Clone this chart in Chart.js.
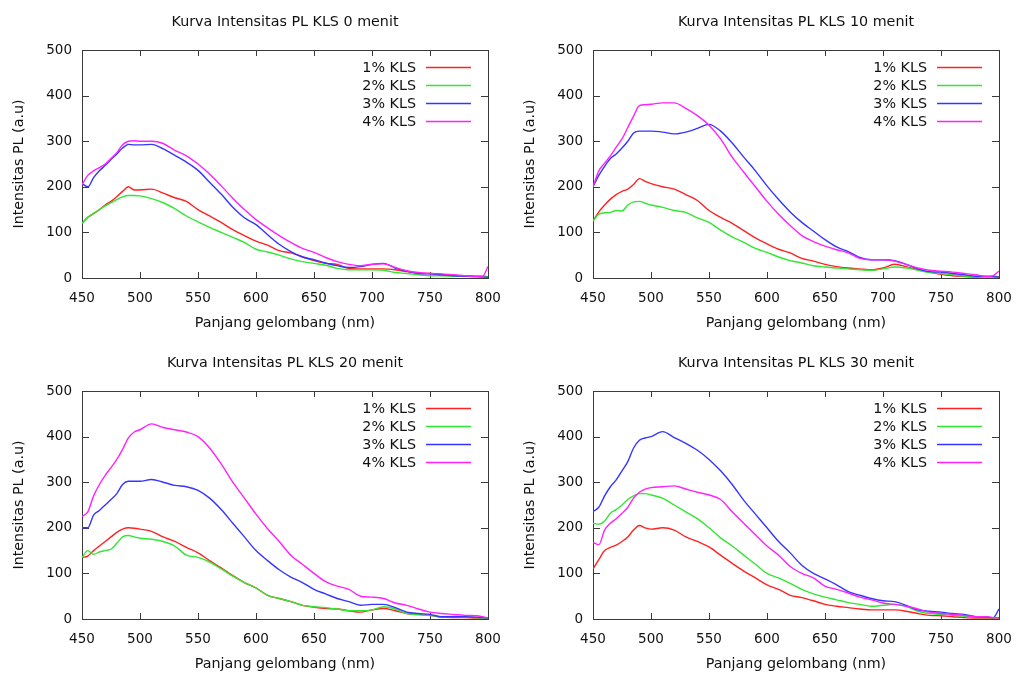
<!DOCTYPE html>
<html>
<head>
<meta charset="utf-8">
<title>Kurva Intensitas PL KLS</title>
<script src="https://cdn.jsdelivr.net/npm/chart.js@4.4.1/dist/chart.umd.min.js"></script>
<style>
  html, body { margin: 0; padding: 0; background: #fff; overflow: hidden; }
  body { width: 1019px; height: 673px; position: relative; }
  canvas { position: absolute; }
</style>
</head>
<body>
<canvas id="p0" width="509" height="340" style="left:0;top:0"></canvas>
<canvas id="p10" width="508" height="340" style="left:511px;top:0"></canvas>
<canvas id="p20" width="509" height="340" style="left:0;top:341px"></canvas>
<canvas id="p30" width="508" height="340" style="left:511px;top:341px"></canvas>
<script>
// wavelengths (nm), shared by every series
const wavelengths = [450, 455, 460, 465, 470, 475, 480, 485, 490, 495, 500,
  510, 520, 530, 540, 550, 560, 570, 580, 590, 600, 610, 620, 630, 640, 650,
  660, 670, 680, 690, 700, 710, 720, 730, 740, 750, 760, 770, 780, 790, 795, 800];

const seriesLabels = ["1% KLS", "2% KLS", "3% KLS", "4% KLS"];
const seriesColors = ["#ff2222", "#33e633", "#3535ff", "#ff22ff"];

const xTicks = [450, 500, 550, 600, 650, 700, 750, 800];
const yTicks = [0, 100, 200, 300, 400, 500];

// 0 menit
const kls1_0 = [120, 133, 141, 150, 160, 168, 178, 190, 200, 193, 193,
  195, 186, 176, 168, 150, 136, 122, 106, 93, 81, 72, 60, 55, 47, 38,
  32, 30, 21, 20, 20, 20, 18, 14, 10, 10, 8, 6, 5, 5, 4, 2];
const kls2_0 = [120, 133, 142, 150, 158, 165, 172, 178, 181, 181, 180,
  174, 165, 152, 136, 123, 111, 100, 89, 78, 63, 57, 50, 42, 36, 32,
  28, 21, 18, 18, 18, 17, 12, 10, 7, 5, 5, 4, 5, 5, 4, 3];
const kls3_0 = [207, 200, 220, 235, 247, 260, 272, 285, 293, 292, 292,
  293, 283, 269, 254, 236, 210, 184, 155, 132, 117, 95, 74, 58, 46, 40,
  33, 27, 23, 25, 30, 32, 22, 15, 10, 9, 7, 5, 4, 3, 2, 2];
const kls4_0 = [205, 225, 235, 242, 250, 262, 275, 292, 300, 301, 300,
  300, 295, 280, 268, 250, 228, 202, 175, 150, 128, 110, 93, 78, 65, 56,
  45, 36, 30, 27, 30, 31, 23, 16, 12, 10, 9, 7, 5, 3, 3, 25];

// 10 menit
const kls1_10 = [125, 145, 160, 173, 183, 190, 195, 205, 218, 212, 207,
  200, 195, 183, 170, 148, 133, 120, 104, 88, 75, 63, 55, 43, 37, 30,
  25, 22, 20, 18, 22, 30, 25, 18, 13, 8, 5, 3, 2, 3, 4, 2];
const kls2_10 = [125, 140, 143, 144, 148, 147, 160, 167, 168, 164, 160,
  155, 148, 144, 132, 122, 105, 90, 78, 65, 56, 46, 38, 33, 27, 24,
  22, 20, 18, 17, 20, 24, 22, 17, 12, 10, 7, 4, 3, 2, 2, 2];
const kls3_10 = [200, 225, 245, 262, 272, 285, 300, 318, 322, 322, 322,
  320, 316, 320, 328, 337, 322, 296, 265, 235, 202, 172, 145, 122, 103, 84,
  68, 58, 45, 40, 40, 38, 30, 20, 14, 13, 10, 7, 4, 4, 3, 2];
const kls4_10 = [200, 235, 252, 268, 287, 305, 330, 355, 378, 380, 381,
  384, 384, 372, 356, 335, 305, 265, 232, 200, 168, 140, 115, 93, 80, 70,
  62, 55, 43, 40, 40, 37, 30, 22, 17, 15, 13, 10, 7, 3, 5, 15];

// 20 menit
const kls1_20 = [135, 138, 150, 160, 170, 180, 190, 197, 200, 199, 197,
  192, 180, 170, 157, 145, 128, 112, 95, 80, 68, 52, 45, 38, 30, 26,
  23, 22, 18, 15, 20, 23, 18, 12, 10, 8, 4, 3, 3, 2, 2, 1];
const kls2_20 = [135, 150, 142, 147, 150, 153, 166, 180, 183, 180, 177,
  175, 170, 160, 140, 135, 125, 110, 94, 80, 68, 52, 45, 38, 30, 27,
  25, 22, 18, 18, 20, 27, 22, 12, 10, 8, 5, 5, 4, 3, 2, 1];
const kls3_20 = [200, 200, 228, 238, 250, 262, 275, 295, 302, 302, 302,
  306, 300, 293, 290, 282, 265, 240, 210, 180, 150, 128, 108, 92, 80, 65,
  55, 45, 38, 30, 32, 32, 25, 15, 12, 10, 5, 5, 5, 4, 3, 2];
const kls4_20 = [225, 235, 270, 295, 315, 332, 350, 372, 397, 410, 415,
  428, 420, 415, 410, 400, 375, 340, 300, 265, 230, 198, 170, 140, 120, 100,
  82, 72, 65, 50, 48, 45, 35, 30, 22, 15, 12, 10, 8, 7, 5, 2];

// 30 menit
const kls1_30 = [110, 130, 150, 157, 162, 170, 180, 195, 205, 200, 197,
  200, 195, 180, 170, 158, 140, 122, 105, 90, 75, 65, 52, 47, 40, 32,
  28, 25, 22, 20, 20, 20, 17, 12, 8, 7, 5, 3, 2, 2, 2, 2];
const kls2_30 = [210, 208, 215, 232, 240, 250, 262, 270, 275, 275, 272,
  265, 250, 235, 220, 200, 178, 160, 140, 120, 100, 90, 78, 65, 55, 48,
  42, 36, 32, 28, 30, 32, 28, 17, 12, 10, 8, 6, 3, 3, 3, 3];
const kls3_30 = [236, 245, 270, 290, 305, 325, 345, 375, 392, 397, 400,
  411, 398, 385, 370, 350, 325, 295, 260, 230, 200, 170, 145, 118, 100, 88,
  75, 60, 52, 45, 40, 38, 30, 20, 17, 15, 12, 10, 5, 4, 3, 22];
const kls4_30 = [168, 163, 195, 210, 220, 232, 245, 265, 278, 285, 288,
  290, 292, 285, 278, 272, 262, 235, 210, 185, 160, 140, 115, 100, 90, 72,
  65, 57, 48, 42, 35, 32, 28, 22, 15, 12, 10, 8, 5, 5, 3, 3];

Chart.defaults.font.family = "'DejaVu Sans', Verdana, sans-serif";
Chart.defaults.color = "#111";

// gnuplot-like box with inward ticks on all four sides
const gnuFrame = {
  id: "gnuFrame",
  beforeDatasetsDraw(chart) {
    const { ctx, chartArea: a, scales } = chart;
    ctx.save();
    ctx.strokeStyle = "#3a3a3a";
    ctx.lineWidth = 1;
    ctx.strokeRect(a.left + 0.5, a.top + 0.5, a.right - a.left, a.bottom - a.top);
    ctx.beginPath();
    xTicks.forEach(v => {
      const x = Math.round(scales.x.getPixelForValue(v)) + 0.5;
      ctx.moveTo(x, a.top); ctx.lineTo(x, a.top + 6);
      ctx.moveTo(x, a.bottom); ctx.lineTo(x, a.bottom - 6);
    });
    yTicks.forEach(v => {
      const y = Math.round(scales.y.getPixelForValue(v)) + 0.5;
      ctx.moveTo(a.left, y); ctx.lineTo(a.left + 7, y);
      ctx.moveTo(a.right, y); ctx.lineTo(a.right - 7, y);
    });
    ctx.stroke();
    ctx.restore();
  },
  afterDatasetsDraw(chart) {
    const { ctx, chartArea: a } = chart;
    // panel title centred over the plot
    ctx.save();
    ctx.fillStyle = "#111";
    ctx.font = "14.3px 'DejaVu Sans'";
    ctx.textAlign = "center";
    ctx.textBaseline = "middle";
    ctx.fillText(chart.options.plugins.gnuFrame.title, (a.left + a.right) / 2, 22);
    // key, top right inside the plot
    ctx.textAlign = "right";
    chart.data.datasets.forEach((ds, i) => {
      const y = a.top + 18 + 18 * i;
      ctx.fillStyle = "#111";
      ctx.fillText(ds.label, a.right - 72, y);
      ctx.strokeStyle = ds.borderColor;
      ctx.lineWidth = 1.5;
      ctx.beginPath();
      ctx.moveTo(a.right - 62, y - 0.5);
      ctx.lineTo(a.right - 17, y - 0.5);
      ctx.stroke();
    });
    ctx.restore();
  }
};

function makePanel(canvasId, title, series, rightPad) {
  const ctx = document.getElementById(canvasId).getContext("2d");
  new Chart(ctx, {
    type: "line",
    data: {
      datasets: series.map((vals, i) => ({
        label: seriesLabels[i],
        data: wavelengths.map((w, k) => ({ x: w, y: vals[k] })),
        borderColor: seriesColors[i],
        borderWidth: 1.4,
        pointRadius: 0,
        fill: false,
        cubicInterpolationMode: "monotone",
        order: 4 - i
      }))
    },
    options: {
      responsive: false,
      animation: false,
      devicePixelRatio: 1,
      layout: { padding: { top: 50, right: rightPad, bottom: 0, left: 0 } },
      plugins: {
        legend: { display: false },
        title: { display: false },
        tooltip: { enabled: false },
        gnuFrame: { title: title }
      },
      scales: {
        x: {
          type: "linear",
          min: 450,
          max: 800,
          afterFit: s => { s.height = 62; s.paddingLeft = 0; s.paddingRight = 0; },
          afterBuildTicks: s => { s.ticks = xTicks.map(v => ({ value: v })); },
          grid: { display: false, drawTicks: false },
          border: { display: false },
          ticks: { padding: 12, maxRotation: 0, autoSkip: false, font: { size: 13.5 }, color: "#111" },
          title: {
            display: true,
            text: "Panjang gelombang (nm)",
            font: { size: 14.3 },
            color: "#111",
            padding: { top: 0, bottom: 8 }
          }
        },
        y: {
          min: 0,
          max: 500,
          afterFit: s => { s.width = 82; },
          afterBuildTicks: s => { s.ticks = yTicks.map(v => ({ value: v })); },
          grid: { display: false, drawTicks: false },
          border: { display: false },
          ticks: { padding: 10, font: { size: 13.5 }, color: "#111" },
          title: {
            display: true,
            text: "Intensitas PL (a.u)",
            font: { size: 14.3 },
            color: "#111",
            padding: { top: 11, bottom: 0 }
          }
        }
      }
    },
    plugins: [gnuFrame]
  });
}

makePanel("p0", "Kurva Intensitas PL KLS 0 menit", [kls1_0, kls2_0, kls3_0, kls4_0], 21);
makePanel("p10", "Kurva Intensitas PL KLS 10 menit", [kls1_10, kls2_10, kls3_10, kls4_10], 20);
makePanel("p20", "Kurva Intensitas PL KLS 20 menit", [kls1_20, kls2_20, kls3_20, kls4_20], 21);
makePanel("p30", "Kurva Intensitas PL KLS 30 menit", [kls1_30, kls2_30, kls3_30, kls4_30], 20);
</script>
</body>
</html>
